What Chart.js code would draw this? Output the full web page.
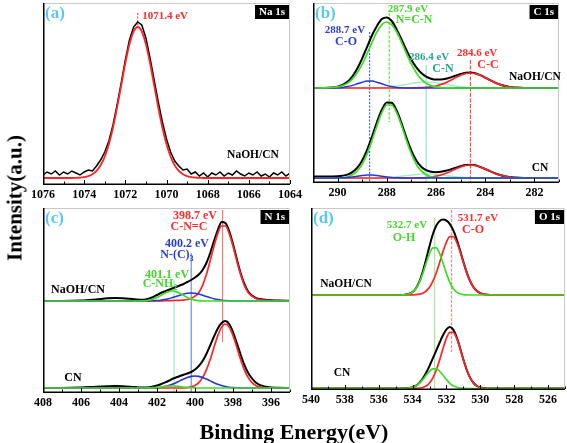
<!DOCTYPE html>
<html>
<head>
<meta charset="utf-8">
<script src="https://cdn.jsdelivr.net/npm/chart.js@4.4.1/dist/chart.umd.min.js"></script>
<style>
  html, body { margin: 0; padding: 0; background: #fff; }
  #wrap { position: relative; width: 567px; height: 443px; overflow: hidden; background: #fff; }
  #wrap canvas { position: absolute; left: 0; top: 0; }
  .title { position: absolute; font-family: "Liberation Serif", "Times New Roman", serif; font-weight: bold; color: #000; white-space: nowrap; line-height: 1; }
  #ytitle { font-size: 21px; left: 15px; top: 198px; transform: translate(-50%, -50%) rotate(-90deg); }
  #xtitle { font-size: 22px; left: 294px; top: 432px; transform: translate(-50%, -50%); }
</style>
</head>
<body>
<div id="wrap">
  <canvas id="pa" width="567" height="443"></canvas>
  <canvas id="pb" width="567" height="443"></canvas>
  <canvas id="pc" width="567" height="443"></canvas>
  <canvas id="pd" width="567" height="443"></canvas>
  <div id="ytitle" class="title">Intensity(a.u.)</div>
  <div id="xtitle" class="title">Binding Energy(eV)</div>
</div>
<script>
// ---- (a) Na 1s ----
const naEnergy = [
  1076.0, 1075.8, 1075.6, 1075.4, 1075.2, 1075.0, 1074.8, 1074.6, 1074.4, 1074.2,
  1074.0, 1073.8, 1073.6, 1073.4, 1073.2, 1073.0, 1072.8, 1072.6, 1072.4, 1072.2,
  1072.0, 1071.8, 1071.6, 1071.4, 1071.2, 1071.0, 1070.8, 1070.6, 1070.4, 1070.2,
  1070.0, 1069.8, 1069.6, 1069.4, 1069.2, 1069.0, 1068.8, 1068.6, 1068.4, 1068.2,
  1068.0, 1067.8, 1067.6, 1067.4, 1067.2, 1067.0, 1066.8, 1066.6, 1066.4, 1066.2,
  1066.0, 1065.8, 1065.6, 1065.4, 1065.2, 1065.0, 1064.8, 1064.6, 1064.4, 1064.2,
  1064.0
]
const naRaw = [
  10, 13, 11, 14, 10, 13, 11, 14, 12, 10,
  13, 15, 14, 19, 25, 33, 44, 60, 80, 102,
  125, 145, 158, 163, 160, 147, 127, 105, 83, 63,
  46, 33, 24, 19, 15, 16, 11, 13, 9, 12,
  8, 12, 10, 13, 9, 12, 10, 14, 11, 9,
  12, 10, 13, 9, 11, 8, 12, 10, 13, 9,
  12
]
const naFit = [
  7, 7, 7, 7, 7, 7, 7, 7, 7.2, 7.4,
  7.9, 8.9, 10.8, 14.1, 19.7, 28.4, 40.8, 57.3, 77.4, 99.6,
  121.7, 140.7, 153.5, 158, 153.5, 140.7, 121.7, 99.6, 77.4, 57.3,
  40.8, 28.4, 19.7, 14.1, 10.8, 8.9, 7.9, 7.4, 7.2, 7,
  7, 7, 7, 7, 7, 7, 7, 7, 7, 7,
  7, 7, 7, 7, 7, 7, 7, 7, 7, 7,
  7
]
const naTicks = [1076, 1074, 1072, 1070, 1068, 1066, 1064]
const naMarkE = [1071.4]
const naMarkTop = [172]
const naMarkBot = [157]

// ---- (b) C 1s ----
const cEnergy = [
  291.0, 290.6, 290.2, 290.0, 289.8, 289.6, 289.4, 289.2, 289.0, 288.8,
  288.6, 288.4, 288.2, 288.0, 287.8, 287.6, 287.4, 287.2, 287.0, 286.8,
  286.6, 286.4, 286.2, 286.0, 285.8, 285.6, 285.4, 285.2, 285.0, 284.8,
  284.6, 284.4, 284.2, 284.0, 283.8, 283.6, 283.4, 283.2, 283.0, 282.6,
  282.2, 281.6, 281.0
]
const cTopSum = [
  92, 92.1, 92.6, 93.3, 95, 98.2, 103.5, 111.4, 121.6, 133.2,
  144.7, 154.1, 161, 162.5, 159, 150.6, 140.6, 129.9, 120.3, 112.6,
  107, 103.4, 101.3, 100.4, 100.5, 101.2, 102.6, 104.4, 106, 107.2,
  107.5, 106.7, 104.8, 102.4, 99.8, 97.4, 95.5, 94, 93.1, 92.3,
  92, 92, 92
]
const cTopNCN = [
  92, 92.1, 92.5, 93.1, 94.4, 96.8, 100.9, 107.2, 115.8, 126.3,
  137.7, 148, 155.4, 158, 155.4, 148, 137.7, 126.3, 115.8, 107.2,
  100.9, 96.8, 94.4, 93.1, 92.5, 92.2, 92.1, 92, 92, 92,
  92, 92, 92, 92, 92, 92, 92, 92, 92, 92,
  92, 92, 92
]
const cTopCO = [
  92, 92, 92.1, 92.2, 92.6, 93.4, 94.6, 96.2, 97.8, 98.9,
  98.9, 97.8, 96.2, 94.6, 93.4, 92.6, 92.2, 92.1, 92, 92,
  92, 92, 92, 92, 92, 92, 92, 92, 92, 92,
  92, 92, 92, 92, 92, 92, 92, 92, 92, 92,
  92, 92, 92
]
const cTopCN = [
  92, 92, 92, 92, 92, 92, 92, 92, 92, 92,
  92.1, 92.3, 92.5, 92.8, 93.3, 94, 94.7, 95.6, 96.5, 97.3,
  97.8, 98, 97.8, 97.3, 96.5, 95.6, 94.7, 94, 93.3, 92.8,
  92.5, 92.3, 92.1, 92, 92, 92, 92, 92, 92, 92,
  92, 92, 92
]
const cTopCC = [
  92, 92, 92, 92, 92, 92, 92, 92, 92, 92,
  92, 92, 92, 92, 92, 92, 92, 92, 92, 92.1,
  92.3, 92.6, 93.1, 94, 95.5, 97.4, 99.8, 102.4, 104.7, 106.4,
  107, 106.4, 104.7, 102.4, 99.8, 97.4, 95.5, 94, 93.1, 92.3,
  92, 92, 92
]
const cBotSum = [
  3.5, 3.5, 3.6, 3.8, 4.3, 5.4, 7.9, 12.3, 19.6, 30.2,
  43.5, 58, 70.3, 77.5, 77.2, 69.5, 56.7, 42.2, 29.4, 19.6,
  13.3, 9.8, 8.2, 7.8, 8.2, 9.2, 10.6, 12.3, 13.9, 15.1,
  15.3, 14.7, 13, 11, 8.8, 6.7, 5, 3.8, 3, 2.2,
  2, 2, 2
]
const cBotNCN = [
  2, 2, 2.1, 2.2, 2.5, 3.3, 5.3, 9.1, 15.8, 26.1,
  39.4, 54.3, 67.3, 75, 75, 67.3, 54.3, 39.4, 26.1, 15.8,
  9.1, 5.3, 3.3, 2.5, 2.2, 2.1, 2, 2, 2, 2,
  2, 2, 2, 2, 2, 2, 2, 2, 2, 2,
  2, 2, 2
]
const cBotCO = [
  2, 2, 2, 2.1, 2.3, 2.6, 3.1, 3.8, 4.5, 4.9,
  4.9, 4.5, 3.8, 3.1, 2.6, 2.3, 2.1, 2, 2, 2,
  2, 2, 2, 2, 2, 2, 2, 2, 2, 2,
  2, 2, 2, 2, 2, 2, 2, 2, 2, 2,
  2, 2, 2
]
const cBotCN = [
  2, 2, 2, 2, 2, 2, 2, 2, 2, 2,
  2, 2.2, 2.3, 2.6, 2.9, 3.3, 3.8, 4.4, 5, 5.5,
  5.9, 6, 5.9, 5.5, 5, 4.4, 3.8, 3.3, 2.9, 2.6,
  2.3, 2.2, 2, 2, 2, 2, 2, 2, 2, 2,
  2, 2, 2
]
const cBotCC = [
  2, 2, 2, 2, 2, 2, 2, 2, 2, 2,
  2, 2, 2, 2, 2, 2, 2, 2, 2, 2.1,
  2.2, 2.5, 3, 3.8, 5, 6.7, 8.8, 11, 13, 14.5,
  15, 14.5, 13, 11, 8.8, 6.7, 5, 3.8, 3, 2.2,
  2, 2, 2
]
const cTicks = [290, 288, 286, 284, 282]
const cMarkE = [288.7, 287.9, 286.4, 284.6]
const cMarkTop = [148, 167, 115, 120]
const cMarkBot = [-3, 58, -3, -3]

// ---- (c) N 1s ----
const nEnergy = [
  408.0, 407.0, 406.0, 405.2, 404.6, 404.2, 403.8, 403.2, 402.8, 402.6,
  402.4, 402.2, 402.0, 401.8, 401.6, 401.4, 401.2, 401.0, 400.8, 400.6,
  400.4, 400.2, 400.0, 399.8, 399.6, 399.4, 399.2, 399.0, 398.8, 398.6,
  398.4, 398.2, 398.0, 397.8, 397.6, 397.4, 397.2, 397.0, 396.8, 396.6,
  396.2, 395.6, 395.0
]
const nTopSum = [
  92, 92, 92.4, 93.6, 94.7, 95, 94.7, 93.8, 93.3, 93.5,
  94.5, 96, 98, 100, 101.5, 103, 104.5, 106, 107.5, 109,
  111, 113, 115.5, 118.5, 123, 130, 140, 152, 163, 171,
  170, 162, 149, 134, 120, 109, 101.5, 97.5, 95, 94,
  93, 92.5, 92.2
]
const nTopCNC = [
  92, 92, 92, 92, 92, 92, 92, 92, 92, 92,
  92, 92, 92.1, 92.1, 92.3, 92.4, 92.4, 92.6, 92.7, 92.9,
  93.5, 94.5, 96.8, 100.4, 107.7, 118.5, 132.2, 146.9, 159.6, 167,
  167, 159.6, 146.9, 132.2, 118.5, 107.7, 100.4, 96.8, 94.5, 93.5,
  92.7, 92.4, 92.1
]
const nTopNC3 = [
  92, 92, 92, 92, 92, 92, 92, 92, 92, 92,
  92.1, 92.2, 92.4, 92.8, 93.4, 94.2, 95.3, 96.5, 97.8, 98.9,
  99.7, 100, 99.7, 98.9, 97.8, 96.5, 95.3, 94.2, 93.4, 92.8,
  92.4, 92.2, 92.1, 92, 92, 92, 92, 92, 92, 92,
  92, 92, 92
]
const nTopNH2 = [
  92, 92, 92, 92, 92, 92, 92, 92, 92.1, 92.4,
  92.9, 93.9, 95.5, 97.5, 99.7, 101.4, 102, 101.4, 99.7, 97.5,
  95.5, 93.9, 92.9, 92.4, 92.1, 92, 92, 92, 92, 92,
  92, 92, 92, 92, 92, 92, 92, 92, 92, 92,
  92, 92, 92
]
const nBotSum = [
  5, 5, 5.4, 6.3, 6.8, 7, 6.8, 6, 5.5, 5.5,
  5.8, 6.5, 7.5, 8.8, 10.3, 12, 14, 15.5, 17, 18.3,
  19.5, 21, 23.5, 27, 32, 39, 47.5, 56.5, 64.5, 70,
  72, 69, 61, 50, 38.5, 28, 20, 14.5, 10.5, 8.2,
  6, 5.2, 5
]
const nBotCNC = [
  5, 5, 5, 5, 5, 5, 5, 5, 5, 5,
  5, 5, 5, 5, 5, 5, 5, 5, 5, 5.1,
  5.4, 6.1, 7.6, 10.4, 15.4, 23.2, 33.6, 45.7, 57.4, 65.9,
  69, 65.9, 57.4, 45.7, 33.6, 23.2, 15.4, 10.4, 7.6, 6.1,
  5.1, 5, 5
]
const nBotNC3 = [
  5, 5, 5, 5, 5, 5, 5, 5, 5, 5,
  5.1, 5.2, 5.4, 5.8, 6.5, 7.4, 8.7, 10.3, 12.1, 13.9,
  15.5, 16.6, 17, 16.6, 15.5, 13.9, 12.1, 10.3, 8.7, 7.4,
  6.5, 5.8, 5.4, 5.2, 5.1, 5, 5, 5, 5, 5,
  5, 5, 5
]
const nBotNH2 = [
  5, 5, 5, 5, 5, 5, 5, 5, 5, 5,
  5.1, 5.3, 5.5, 5.9, 6.4, 6.8, 7, 6.8, 6.4, 5.9,
  5.5, 5.3, 5.1, 5, 5, 5, 5, 5, 5, 5,
  5, 5, 5, 5, 5, 5, 5, 5, 5, 5,
  5, 5, 5
]
const nTicks = [408, 406, 404, 402, 400, 398, 396]
const nMarkE = [398.55, 400.2, 401.1]
const nMarkTop = [183, 140, 113]
const nMarkBot = [51, 0, 0]

// ---- (d) O 1s ----
const oEnergy = [
  540, 538, 536, 535.4, 535.0, 534.8, 534.6, 534.4, 534.2, 534.0,
  533.8, 533.6, 533.4, 533.2, 533.0, 532.8, 532.6, 532.4, 532.2, 532.0,
  531.8, 531.6, 531.4, 531.2, 531.0, 530.8, 530.6, 530.4, 530.2, 530.0,
  529.8, 529.6, 529.4, 529.0, 528.4, 527, 525
]
const oTopSum = [
  95, 95, 95, 95, 95, 95, 95.1, 95.4, 96.2, 98,
  101.8, 108.4, 118.2, 130.8, 144.1, 156, 164.5, 169.1, 170.5, 169.3,
  165.9, 159.8, 150.8, 139.9, 128.1, 117.4, 108.8, 102.7, 99, 96.8,
  95.8, 95.3, 95.1, 95, 95, 95, 95
]
const oTopCO = [
  95, 95, 95, 95, 95, 95, 95, 95, 95, 95.1,
  95.3, 95.8, 96.8, 99, 102.7, 108.8, 117.3, 127.7, 138.7, 147.9,
  153.3, 153.3, 147.9, 138.7, 127.7, 117.3, 108.8, 102.7, 99, 96.8,
  95.8, 95.3, 95.1, 95, 95, 95, 95
]
const oTopOH = [
  95, 95, 95, 95, 95, 95, 95.1, 95.4, 96.2, 97.9,
  101.5, 107.6, 116.4, 126.8, 136.4, 142.2, 142.2, 136.4, 126.8, 116.4,
  107.6, 101.5, 97.9, 96.2, 95.4, 95.1, 95, 95, 95, 95,
  95, 95, 95, 95, 95, 95, 95
]
const oBotSum = [
  1.5, 1.5, 1.5, 1.5, 1.5, 1.5, 1.5, 1.7, 2, 2.7,
  4.3, 7.1, 11.4, 17.2, 24.2, 31.8, 39.7, 47.5, 55, 60.7,
  62.9, 60.4, 53, 42.3, 30.5, 20, 12.1, 7, 4, 2.5,
  1.9, 1.6, 1.5, 1.5, 1.5, 1.5, 1.5
]
const oBotCO = [
  1.5, 1.5, 1.5, 1.5, 1.5, 1.5, 1.5, 1.5, 1.5, 1.5,
  1.6, 1.9, 2.5, 4, 7, 12.1, 20, 30.3, 41.8, 51.8,
  57.7, 57.7, 51.8, 41.8, 30.3, 20, 12.1, 7, 4, 2.5,
  1.9, 1.6, 1.5, 1.5, 1.5, 1.5, 1.5
]
const oBotOH = [
  1.5, 1.5, 1.5, 1.5, 1.5, 1.5, 1.5, 1.7, 2, 2.7,
  4.2, 6.7, 10.4, 14.7, 18.7, 21.2, 21.2, 18.7, 14.7, 10.4,
  6.7, 4.2, 2.7, 2, 1.7, 1.5, 1.5, 1.5, 1.5, 1.5,
  1.5, 1.5, 1.5, 1.5, 1.5, 1.5, 1.5
]
const oTicks = [540, 538, 536, 534, 532, 530, 528, 526]
const oMarkE = [532.7, 531.7]
const oMarkTop = [172, 180]
const oMarkBot = [0, 38]

// ---- styles ----
const FONT = '"Liberation Serif", "Times New Roman", serif'
const BLACK = '#000000'
const RED = '#ff2424'
const GREEN = '#3fdc24'
const BLUE = '#2436d8'
const TEAL = '#a6ecc8'
const TAG = '#5bc8ef'
const RED_T = '#ff2a2a'
const GREEN_T = '#44d62c'
const BLUE_T = '#2b3fc9'
const TEAL_T = '#26a88a'

const pts = (xs, ys) => xs.map((x, i) => ({ x, y: ys[i] }))

const curve = (xs, ys, color, width = 1.7, smooth = true) => ({
  data: pts(xs, ys),
  borderColor: color,
  borderWidth: width,
  pointRadius: 0,
  fill: false,
  tension: 0,
  cubicInterpolationMode: smooth ? 'monotone' : 'default'
})

const markers = (es, tops, bots, styles) => es.map((e, i) => ({
  data: [{ x: e, y: tops[i] }, { x: e, y: bots[i] }],
  borderColor: styles[i].color,
  borderWidth: styles[i].width || 1.2,
  borderDash: styles[i].dash || [],
  borderCapStyle: 'butt',
  pointRadius: 0,
  fill: false
}))

/**
 * Draw a note, with optional subscript, centred on (px, py)
 */
const drawNote = (ctx, n, px, py) => {
  const size = n.size || 11
  ctx.fillStyle = n.color || BLACK
  ctx.textBaseline = 'middle'
  ctx.font = `bold ${size}px ${FONT}`
  if (!n.sub) {
    ctx.textAlign = 'center'
    ctx.fillText(n.text, px, py)
    return
  }
  const w1 = ctx.measureText(n.text).width
  ctx.font = `bold ${Math.round(size * 0.7)}px ${FONT}`
  const w2 = ctx.measureText(n.sub).width
  const x0 = px - (w1 + w2) / 2
  ctx.textAlign = 'left'
  ctx.fillText(n.sub, x0 + w1, py + 4)
  ctx.font = `bold ${size}px ${FONT}`
  ctx.fillText(n.text, x0, py)
}

// frame, inward ticks, panel tag, core-level box and notes
const decoPlugin = {
  id: 'deco',
  afterDatasetsDraw (chart, args, o) {
    const { ctx, chartArea: a, scales: { x, y } } = chart
    ctx.save()
    ctx.lineWidth = 1
    ctx.strokeStyle = '#c8c8c8'
    ctx.beginPath()
    ctx.moveTo(a.left, a.top + 0.5)
    ctx.lineTo(a.right - 0.5, a.top + 0.5)
    ctx.lineTo(a.right - 0.5, a.bottom)
    ctx.stroke()

    ctx.lineWidth = 1.5
    ctx.strokeStyle = BLACK
    ctx.beginPath()
    ctx.moveTo(a.left + 0.75, a.top)
    ctx.lineTo(a.left + 0.75, a.bottom - 0.75)
    ctx.lineTo(a.right, a.bottom - 0.75)
    ctx.stroke()

    ctx.lineWidth = 1
    const majors = x.ticks.map(t => t.value)
    for (let v = Math.ceil(x.min); v <= Math.floor(x.max); v++) {
      const px = Math.round(x.getPixelForValue(v)) + 0.5
      const len = majors.includes(v) ? 4 : 2.5
      ctx.beginPath()
      ctx.moveTo(px, a.bottom - 1)
      ctx.lineTo(px, a.bottom - 1 - len)
      ctx.stroke()
    }

    ctx.font = `bold 17px ${FONT}`
    ctx.fillStyle = TAG
    ctx.textAlign = 'left'
    ctx.textBaseline = 'middle'
    ctx.fillText(o.tag, a.left + 2, a.top + 11)

    ctx.font = `bold 11px ${FONT}`
    const bw = ctx.measureText(o.box).width + 8
    ctx.fillStyle = BLACK
    ctx.fillRect(a.right - bw - 1, a.top + 2, bw, 14)
    ctx.fillStyle = '#ffffff'
    ctx.textAlign = 'center'
    ctx.fillText(o.box, a.right - 1 - bw / 2, a.top + 9.5)

    for (const n of o.notes) {
      drawNote(ctx, n, x.getPixelForValue(n.x), y.getPixelForValue(n.y))
    }
    ctx.restore()
  }
}

/**
 * One panel on a full-size transparent canvas, placed by layout padding
 */
function makePanel (id, area, xRange, yRange, ticks, datasets, deco) {
  const W = 567
  const H = 443
  const AXIS_H = 18
  return new Chart(document.getElementById(id), {
    type: 'line',
    data: { datasets },
    options: {
      responsive: false,
      animation: false,
      events: [],
      layout: {
        padding: { left: area.left, top: area.top, right: W - area.right, bottom: H - area.bottom - AXIS_H }
      },
      plugins: { legend: { display: false }, tooltip: { enabled: false }, deco },
      scales: {
        x: {
          type: 'linear',
          reverse: true,
          min: xRange[1],
          max: xRange[0],
          afterBuildTicks: s => { s.ticks = ticks.map(v => ({ value: v })) },
          afterFit: s => { s.height = AXIS_H },
          grid: { display: false, drawTicks: false },
          border: { display: false },
          ticks: {
            color: BLACK,
            padding: 3,
            maxRotation: 0,
            autoSkip: false,
            font: { family: FONT, size: 12, weight: 'bold' },
            callback: v => String(v)
          }
        },
        y: { display: false, min: yRange[0], max: yRange[1] }
      }
    },
    plugins: [decoPlugin]
  })
}

// (a)
makePanel('pa', { left: 43, top: 3, right: 290, bottom: 185 }, [1076, 1064], [0, 182], naTicks, [
  curve(naEnergy, naFit, RED, 1.8),
  curve(naEnergy, naRaw, BLACK, 1.5, false),
  ...markers(naMarkE, naMarkTop, naMarkBot, [{ color: '#ff5050', dash: [2, 1.5] }])
], {
  tag: '(a)',
  box: 'Na 1s',
  notes: [
    { text: '1071.4 eV', x: 1070.07, y: 169, color: RED_T, size: 11 },
    { text: 'NaOH/CN', x: 1065.8, y: 30, size: 11.5 }
  ]
})

// (b)
makePanel('pb', { left: 313, top: 3, right: 559, bottom: 183 }, [291, 281], [-3, 177], cTicks, [
  curve(cEnergy, cTopNCN, GREEN),
  curve(cEnergy, cTopCO, BLUE, 1.5),
  curve(cEnergy, cTopCC, RED),
  curve(cEnergy, cTopCN, TEAL, 1.4),
  curve(cEnergy, cTopSum, BLACK, 2),
  curve(cEnergy, cBotCO, BLUE, 1.5),
  curve(cEnergy, cBotNCN, GREEN),
  curve(cEnergy, cBotCC, RED),
  curve(cEnergy, cBotCN, TEAL, 1.4),
  curve(cEnergy, cBotSum, BLACK, 2),
  ...markers(cMarkE, cMarkTop, cMarkBot, [
    { color: '#3f62f0', dash: [2, 1.5] },
    { color: '#66e048', dash: [3, 1.5] },
    { color: '#8ae8d8' },
    { color: '#ff4a4a', dash: [4, 1.5] }
  ])
], {
  tag: '(b)',
  box: 'C 1s',
  notes: [
    { text: '288.7 eV', x: 289.7, y: 150, color: BLUE_T, size: 11 },
    { text: 'C-O', x: 289.66, y: 138, color: BLUE_T, size: 12 },
    { text: '287.9 eV', x: 287.14, y: 171, color: GREEN_T, size: 11 },
    { text: 'N=C-N', x: 286.89, y: 160, color: GREEN_T, size: 12 },
    { text: '286.4 eV', x: 286.28, y: 123, color: TEAL_T, size: 11 },
    { text: 'C-N', x: 285.72, y: 111, color: TEAL_T, size: 12 },
    { text: '284.6 eV', x: 284.33, y: 127, color: RED_T, size: 11 },
    { text: 'C-C', x: 283.89, y: 115, color: RED_T, size: 12 },
    { text: 'NaOH/CN', x: 281.98, y: 103, size: 11.5 },
    { text: 'CN', x: 281.77, y: 12, size: 11.5 }
  ]
})

// (c)
makePanel('pc', { left: 43, top: 208, right: 290, bottom: 393 }, [408, 395], [0, 185], nTicks, [
  curve(nEnergy, nTopNH2, GREEN),
  curve(nEnergy, nTopNC3, BLUE, 1.5),
  curve(nEnergy, nTopCNC, RED),
  curve(nEnergy, nTopSum, BLACK, 2),
  curve(nEnergy, nBotNH2, GREEN),
  curve(nEnergy, nBotNC3, BLUE, 1.6),
  curve(nEnergy, nBotCNC, RED),
  curve(nEnergy, nBotSum, BLACK, 2),
  ...markers(nMarkE, nMarkTop, nMarkBot, [
    { color: '#f07a7a' },
    { color: '#6f8fe6' },
    { color: '#9fe8c8' }
  ])
], {
  tag: '(c)',
  box: 'N 1s',
  notes: [
    { text: '398.7 eV', x: 400.0, y: 177, color: RED_T, size: 12 },
    { text: 'C-N=C', x: 400.32, y: 166, color: RED_T, size: 12 },
    { text: '400.2 eV', x: 400.42, y: 149, color: BLUE_T, size: 12 },
    { text: 'N-(C)', sub: '3', x: 400.95, y: 138, color: BLUE_T, size: 12 },
    { text: '401.1 eV', x: 401.47, y: 118, color: GREEN_T, size: 12 },
    { text: 'C-NH', sub: '2', x: 401.84, y: 109, color: GREEN_T, size: 12 },
    { text: 'NaOH/CN', x: 406.16, y: 103, size: 12 },
    { text: 'CN', x: 406.42, y: 15, size: 12 }
  ]
})

// (d)
makePanel('pd', { left: 311, top: 208, right: 565, bottom: 390 }, [540, 525], [0, 182], oTicks, [
  curve(oEnergy, oTopOH, GREEN),
  curve(oEnergy, oTopCO, RED),
  curve(oEnergy, oTopSum, BLACK, 2),
  curve(oEnergy, oBotOH, GREEN),
  curve(oEnergy, oBotCO, RED),
  curve(oEnergy, oBotSum, BLACK, 2),
  ...markers(oMarkE, oMarkTop, oMarkBot, [
    { color: '#a8e89a' },
    { color: '#f08a8a', dash: [3, 1.5] }
  ])
], {
  tag: '(d)',
  box: 'O 1s',
  notes: [
    { text: '532.7 eV', x: 534.33, y: 165, color: GREEN_T, size: 11 },
    { text: 'O-H', x: 534.51, y: 152, color: GREEN_T, size: 12 },
    { text: '531.7 eV', x: 530.14, y: 172, color: RED_T, size: 11 },
    { text: 'C-O', x: 530.43, y: 160, color: RED_T, size: 12 },
    { text: 'NaOH/CN', x: 537.93, y: 106, size: 11.5 },
    { text: 'CN', x: 538.17, y: 17, size: 11.5 }
  ]
})
</script>
</body>
</html>
